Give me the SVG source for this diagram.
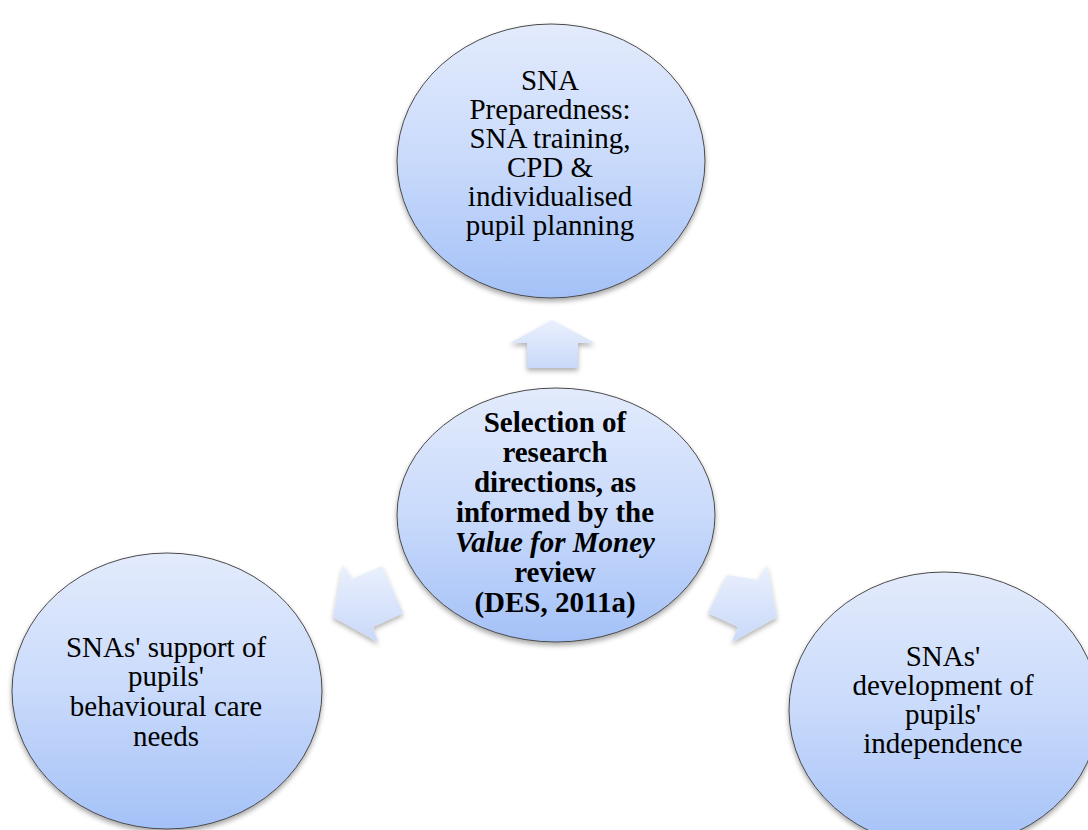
<svg xmlns="http://www.w3.org/2000/svg" width="1088" height="830" viewBox="0 0 1088 830">
<defs>
<linearGradient id="gCircle" x1="0" y1="0" x2="0" y2="1">
<stop offset="0" stop-color="#e3ebfc"/>
<stop offset="0.5" stop-color="#c9dafb"/>
<stop offset="1" stop-color="#a4c1f7"/>
</linearGradient>
<linearGradient id="gArrow" x1="0" y1="0" x2="0" y2="1">
<stop offset="0" stop-color="#eaf0fd"/>
<stop offset="1" stop-color="#c9d9f9"/>
</linearGradient>
<filter id="shadow" x="-10%" y="-10%" width="120%" height="125%">
<feDropShadow dx="0" dy="3" stdDeviation="2.5" flood-color="#000" flood-opacity="0.35"/>
</filter>
<filter id="ashadow" x="-20%" y="-20%" width="140%" height="150%">
<feDropShadow dx="0" dy="3" stdDeviation="2.5" flood-color="#000" flood-opacity="0.3"/>
</filter>
</defs>
<style>
.node ellipse { fill: url(#gCircle); stroke: #4a4a4a; stroke-width: 1; filter: url(#shadow); }
.node text { font-family: "Liberation Serif", "Times New Roman", serif; font-size: 29px; fill: #000; text-anchor: middle; }
.bold text { font-weight: bold; }
.arrow { fill: url(#gArrow); filter: url(#ashadow); }
</style>
<rect width="1088" height="830" fill="#ffffff"/>
<g id="connectors">
<polygon class="arrow" points="552,320 595,343 578,343 578,368 527,368 527,343 510,343"/>
<polygon class="arrow" points="343,565 352,579 382,566 403,613 373,627 378,642 333,617"/>
<polygon class="arrow" points="727,575 758,580 767,565 777,617 732,642 738,627 708,613"/>
</g>
<g id="node-top" class="node">
<ellipse cx="551" cy="161" rx="154" ry="137"/>
<text x="550" y="90">SNA</text>
<text x="550" y="119">Preparedness:</text>
<text x="550" y="148">SNA training,</text>
<text x="550" y="177">CPD &amp;</text>
<text x="550" y="206">individualised</text>
<text x="550" y="235">pupil planning</text>
</g>
<g id="node-center" class="node bold">
<ellipse cx="556" cy="515" rx="159" ry="127"/>
<text x="555" y="432">Selection of</text>
<text x="555" y="462">research</text>
<text x="555" y="492">directions, as</text>
<text x="555" y="522">informed by the</text>
<text x="555" y="552" font-style="italic">Value for Money</text>
<text x="555" y="582">review</text>
<text x="555" y="612">(DES, 2011a)</text>
</g>
<g id="node-left" class="node">
<ellipse cx="167" cy="691" rx="155" ry="138"/>
<text x="166" y="657">SNAs' support of</text>
<text x="166" y="686">pupils'</text>
<text x="166" y="716">behavioural care</text>
<text x="166" y="746">needs</text>
</g>
<g id="node-right" class="node">
<ellipse cx="944" cy="710" rx="155" ry="138"/>
<text x="943" y="666">SNAs'</text>
<text x="943" y="695">development of</text>
<text x="943" y="724">pupils'</text>
<text x="943" y="753">independence</text>
</g>
</svg>
